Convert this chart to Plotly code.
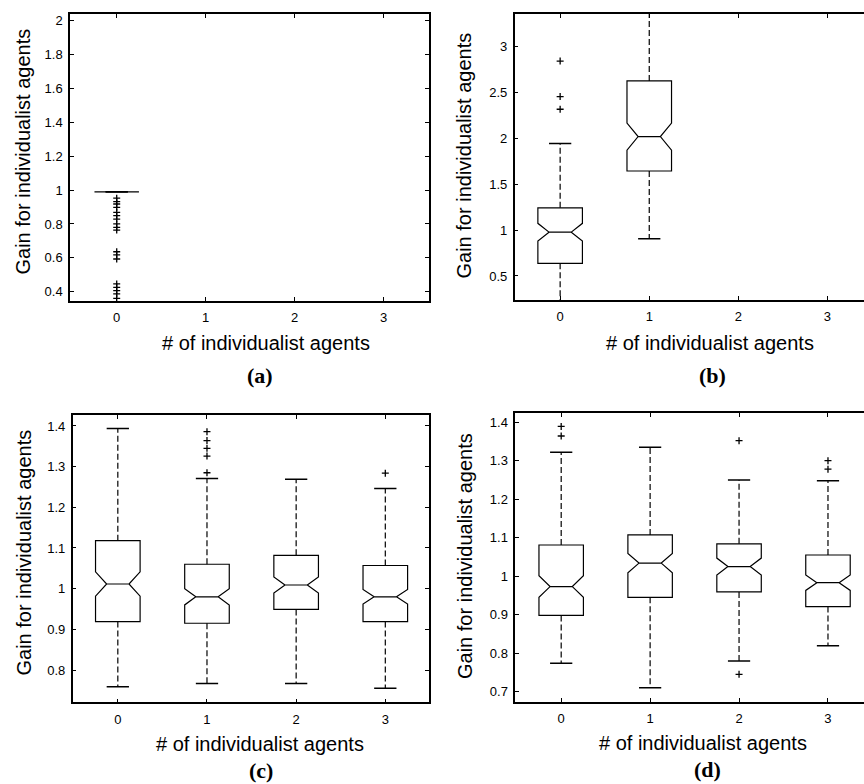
import plotly.graph_objects as go

# ---------------- data ----------------
# (a)
a_pos = [0]
a_q1 = [0.99]
a_med = [0.99]
a_q3 = [0.99]
a_low = [0.99]
a_up = [0.99]
a_notch = [0.0]
a_out_x = [0] * 18
a_out_y = [0.952, 0.932, 0.918, 0.898, 0.869, 0.849, 0.829, 0.80, 0.78, 0.764,
           0.636, 0.617, 0.593, 0.446, 0.426, 0.406, 0.387, 0.361]

# (b)
b_pos = [0, 1]
b_q1 = [0.638, 1.645]
b_med = [0.978, 2.02]
b_q3 = [1.243, 2.627]
b_low = [0.2, 0.905]
b_up = [1.945, 3.45]
b_notch = [0.096, 0.148]
b_out_x = [0, 0, 0]
b_out_y = [2.844, 2.456, 2.318]

# (c)
c_pos = [0, 1, 2, 3]
c_q1 = [0.919, 0.915, 0.949, 0.919]
c_med = [1.0115, 0.98, 1.009, 0.98]
c_q3 = [1.118, 1.06, 1.082, 1.057]
c_low = [0.759, 0.767, 0.767, 0.755]
c_up = [1.394, 1.271, 1.269, 1.246]
c_notch = [0.030, 0.020, 0.020, 0.018]
c_out_x = [1, 1, 1, 1, 1, 3]
c_out_y = [1.386, 1.364, 1.345, 1.326, 1.285, 1.284]

# (d)
d_pos = [0, 1, 2, 3]
d_q1 = [0.898, 0.945, 0.959, 0.921]
d_med = [0.973, 1.034, 1.025, 0.983]
d_q3 = [1.081, 1.107, 1.084, 1.055]
d_low = [0.774, 0.710, 0.780, 0.819]
d_up = [1.322, 1.335, 1.25, 1.248]
d_notch = [0.028, 0.025, 0.022, 0.020]
d_out_x = [0, 0, 2, 2, 3, 3]
d_out_y = [1.389, 1.364, 1.352, 0.745, 1.300, 1.278]

x_tickvals = [0, 1, 2, 3]
x_title = "# of individualist agents"
y_title = "Gain for individualist agents"
panel_labels = ["(a)", "(b)", "(c)", "(d)"]

# ---------------- layout geometry ----------------
W, H = 864, 784
BOX_W = 0.5
CAP_HALF = 0.125

panels = [
    dict(pos=a_pos, q1=a_q1, med=a_med, q3=a_q3, low=a_low, up=a_up, notch=a_notch,
         ox=a_out_x, oy=a_out_y, right=True,
         xdom=[70 / W, 429 / W], ydom=[1 - 301 / H, 1 - 14 / H],
         xr=[-0.525, 3.51], yr=[0.345, 2.04], ydt=0.2, y0=0.4,
         xt=(265.5, 343.3), yt=(22, 151.5), lab=(260.3, 375.7)),
    dict(pos=b_pos, q1=b_q1, med=b_med, q3=b_q3, low=b_low, up=b_up, notch=b_notch,
         ox=b_out_x, oy=b_out_y, right=False,
         xdom=[514.7 / W, 1.0], ydom=[1 - 300 / H, 1 - 14 / H],
         xr=[-0.51, 3.41], yr=[0.238, 3.357], ydt=0.5, y0=0.5,
         xt=(709.5, 343.0), yt=(464, 155.5), lab=(712, 375.7)),
    dict(pos=c_pos, q1=c_q1, med=c_med, q3=c_q3, low=c_low, up=c_up, notch=c_notch,
         ox=c_out_x, oy=c_out_y, right=True,
         xdom=[72.7 / W, 429 / W], ydom=[1 - 702.3 / H, 1 - 415 / H],
         xr=[-0.506, 3.49], yr=[0.7206, 1.427], ydt=0.1, y0=0.8,
         xt=(259.5, 744.3), yt=(23, 552.5), lab=(260.8, 770.5)),
    dict(pos=d_pos, q1=d_q1, med=d_med, q3=d_q3, low=d_low, up=d_up, notch=d_notch,
         ox=d_out_x, oy=d_out_y, right=False,
         xdom=[515.3 / W, 1.0], ydom=[1 - 701.7 / H, 1 - 413.3 / H],
         xr=[-0.516, 3.405], yr=[0.674, 1.423], ydt=0.1, y0=0.7,
         xt=(702.8, 742.7), yt=(465, 556), lab=(707, 769.5)),
]

fig = go.Figure()
annotations = []

for i, p in enumerate(panels):
    n = i + 1
    xa = "x" if n == 1 else f"x{n}"
    ya = "y" if n == 1 else f"y{n}"

    # notched box (no whiskers: fences at quartiles)
    fig.add_trace(go.Box(
        x=p["pos"], q1=p["q1"], median=p["med"], q3=p["q3"],
        lowerfence=p["q1"], upperfence=p["q3"], notchspan=p["notch"],
        notched=True, width=BOX_W, whiskerwidth=0,
        fillcolor="rgba(0,0,0,0)", line=dict(color="black", width=1.2),
        boxpoints=False, showlegend=False, hoverinfo="skip",
        xaxis=xa, yaxis=ya))

    # dashed whiskers
    wx, wy = [], []
    for k, xp in enumerate(p["pos"]):
        wx += [xp, xp, None, xp, xp, None]
        wy += [p["q3"][k], p["up"][k], None, p["q1"][k], p["low"][k], None]
    fig.add_trace(go.Scatter(x=wx, y=wy, mode="lines",
                             line=dict(color="black", width=1.2, dash="6px,3px"),
                             showlegend=False, hoverinfo="skip", xaxis=xa, yaxis=ya))

    # whisker caps
    cx, cy = [], []
    for k, xp in enumerate(p["pos"]):
        for v in (p["up"][k], p["low"][k]):
            cx += [xp - CAP_HALF, xp + CAP_HALF, None]
            cy += [v, v, None]
    fig.add_trace(go.Scatter(x=cx, y=cy, mode="lines",
                             line=dict(color="black", width=1.5),
                             showlegend=False, hoverinfo="skip", xaxis=xa, yaxis=ya))

    # outliers
    fig.add_trace(go.Scatter(x=p["ox"], y=p["oy"], mode="markers",
                             marker=dict(symbol="cross-thin-open", size=5,
                                         line=dict(color="black", width=1.3), color="black"),
                             showlegend=False, hoverinfo="skip", xaxis=xa, yaxis=ya))

    axis_common = dict(showline=True, linecolor="black", linewidth=1.5,
                       ticks="inside", ticklen=4, tickwidth=1, tickcolor="black",
                       showgrid=False, zeroline=False,
                       tickfont=dict(family="Liberation Sans, Arial, sans-serif", size=13, color="black"))
    fig.layout[("xaxis" if n == 1 else f"xaxis{n}")] = dict(
        domain=p["xdom"], range=p["xr"], anchor=ya, tickmode="array", mirror="allticks",
        tickvals=x_tickvals, ticklabelstandoff=4, **axis_common)
    fig.layout[("yaxis" if n == 1 else f"yaxis{n}")] = dict(
        domain=p["ydom"], range=p["yr"], anchor=xa, tickmode="linear",
        mirror="allticks" if p["right"] else False,
        tick0=p["y0"], dtick=p["ydt"], ticklabelstandoff=3, **axis_common)

    annotations.append(dict(text=x_title, x=p["xt"][0] / W, y=1 - p["xt"][1] / H,
                            xref="paper", yref="paper", showarrow=False,
                            xanchor="center", yanchor="middle",
                            font=dict(family="Liberation Sans, Arial, sans-serif", size=20, color="black")))
    annotations.append(dict(text=y_title, x=p["yt"][0] / W, y=1 - p["yt"][1] / H,
                            xref="paper", yref="paper", showarrow=False, textangle=-90,
                            xanchor="center", yanchor="middle",
                            font=dict(family="Liberation Sans, Arial, sans-serif", size=20, color="black")))
    annotations.append(dict(text="<b>" + panel_labels[i] + "</b>", x=p["lab"][0] / W, y=1 - p["lab"][1] / H,
                            xref="paper", yref="paper", showarrow=False,
                            xanchor="center", yanchor="middle",
                            font=dict(family="Liberation Serif, Times New Roman, serif", size=22, color="black")))

fig.update_layout(width=W, height=H, margin=dict(l=0, r=0, t=0, b=0),
                  paper_bgcolor="white", plot_bgcolor="white",
                  annotations=annotations, showlegend=False)

fig.write_html("out.html")
